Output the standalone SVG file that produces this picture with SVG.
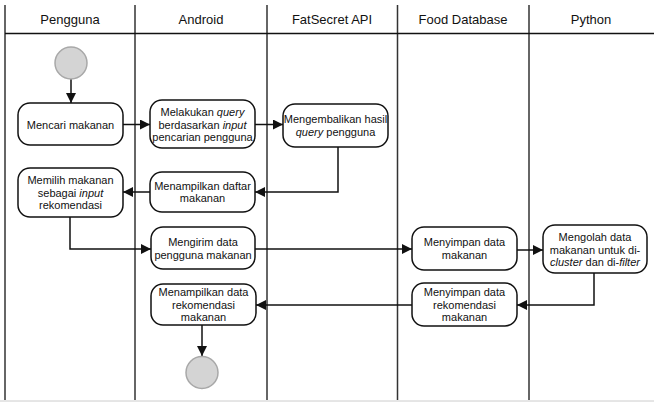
<svg xmlns="http://www.w3.org/2000/svg" width="654" height="403" viewBox="0 0 654 403">
<style>
.lane{stroke:#333;stroke-width:1.5;fill:none}
.hdr{font-family:"Liberation Sans",Arial,sans-serif;font-size:13px;fill:#111;text-anchor:middle}
.box{fill:#fff;stroke:#111;stroke-width:1.5}
.t{font-family:"Liberation Sans",Arial,sans-serif;font-size:11px;fill:#111;text-anchor:middle}
.c{stroke:#111;stroke-width:1.5;fill:none}
.node-c{fill:#d4d4d4;stroke:#a8a8a8;stroke-width:1.5}
</style>
<defs>
<marker id="ah" viewBox="0 0 10 10" refX="10" refY="5" markerWidth="7" markerHeight="7" markerUnits="userSpaceOnUse" orient="auto">
<path d="M0,0 L10,5 L0,10 z" fill="#111"/>
</marker>
<marker id="a" viewBox="0 0 10 10" refX="10" refY="5" markerWidth="10" markerHeight="10" markerUnits="userSpaceOnUse" orient="auto">
<path d="M0,0 L10,5 L0,10 z" fill="#111"/>
</marker>
</defs>
<rect width="654" height="403" fill="#fff"/>
<g id="lanes">
<line class="lane" x1="5" y1="5" x2="5" y2="400"/>
<line class="lane" x1="135" y1="5" x2="135" y2="400"/>
<line class="lane" x1="267" y1="5" x2="267" y2="400"/>
<line class="lane" x1="397.5" y1="5" x2="397.5" y2="400"/>
<line class="lane" x1="529" y1="5" x2="529" y2="400"/>
<line x1="5" y1="33.5" x2="654" y2="33.5" stroke="#111" stroke-width="1.5"/>
<line x1="0" y1="401" x2="654" y2="401" stroke="#ccc" stroke-width="1"/>
<text class="hdr" x="70" y="24">Pengguna</text>
<text class="hdr" x="201" y="24">Android</text>
<text class="hdr" x="332" y="24">FatSecret API</text>
<text class="hdr" x="463" y="24">Food Database</text>
<text class="hdr" x="591" y="24">Python</text>
</g>
<g id="connectors">
<line class="c" x1="71" y1="79" x2="71" y2="103" marker-end="url(#a)"/>
<line class="c" x1="123" y1="124.5" x2="150" y2="124.5" marker-end="url(#a)"/>
<line class="c" x1="255" y1="124.5" x2="283" y2="124.5" marker-end="url(#a)"/>
<polyline class="c" points="338,147 338,192 255,192" marker-end="url(#a)"/>
<line class="c" x1="150" y1="192" x2="123" y2="192" marker-end="url(#a)"/>
<polyline class="c" points="70,217 70,249 151,249" marker-end="url(#a)"/>
<line class="c" x1="255" y1="249" x2="412" y2="249" marker-end="url(#a)"/>
<line class="c" x1="517" y1="250" x2="543" y2="250" marker-end="url(#a)"/>
<polyline class="c" points="594,273 594,305 517,305" marker-end="url(#a)"/>
<line class="c" x1="412" y1="305" x2="256" y2="305" marker-end="url(#a)"/>
<line class="c" x1="202" y1="325" x2="202" y2="356" marker-end="url(#a)"/>
</g>
<g id="start"><circle class="node-c" cx="71" cy="63" r="16"/></g>
<g id="end"><circle class="node-c" cx="202" cy="372.5" r="16"/></g>
<g id="mencari">
<rect class="box" x="18" y="103" width="105" height="42" rx="12"/>
<text class="t" x="70.5" y="128.5">Mencari makanan</text>
</g>
<g id="melakukan">
<rect class="box" x="150" y="100" width="105" height="48" rx="12"/>
<text class="t" x="202.5" y="116">Melakukan <tspan font-style="italic">query</tspan></text>
<text class="t" x="202.5" y="128.5">berdasarkan <tspan font-style="italic">input</tspan></text>
<text class="t" x="202.5" y="141">pencarian pengguna</text>
</g>
<g id="mengembalikan">
<rect class="box" x="283" y="104" width="105" height="43" rx="12"/>
<text class="t" x="335.5" y="122.5">Mengembalikan hasil</text>
<text class="t" x="335.5" y="135.5"><tspan font-style="italic">query</tspan> pengguna</text>
</g>
<g id="menampilkan-daftar">
<rect class="box" x="150" y="172" width="105" height="40" rx="12"/>
<text class="t" x="202.5" y="189.5">Menampilkan daftar</text>
<text class="t" x="202.5" y="202">makanan</text>
</g>
<g id="memilih">
<rect class="box" x="18" y="168" width="105" height="49" rx="12"/>
<text class="t" x="70.5" y="184">Memilih makanan</text>
<text class="t" x="70.5" y="196.5">sebagai <tspan font-style="italic">input</tspan></text>
<text class="t" x="70.5" y="209">rekomendasi</text>
</g>
<g id="mengirim">
<rect class="box" x="151" y="227" width="104" height="42" rx="12"/>
<text class="t" x="203" y="246">Mengirim data</text>
<text class="t" x="203" y="258.5">pengguna makanan</text>
</g>
<g id="menyimpan-data">
<rect class="box" x="412" y="227" width="105" height="43" rx="12"/>
<text class="t" x="464.5" y="246">Menyimpan data</text>
<text class="t" x="464.5" y="258.5">makanan</text>
</g>
<g id="mengolah">
<rect class="box" x="543" y="225" width="104" height="48" rx="12"/>
<text class="t" x="595" y="241">Mengolah data</text>
<text class="t" x="595" y="253.5">makanan untuk di-</text>
<text class="t" x="595" y="266"><tspan font-style="italic">cluster</tspan> dan di-<tspan font-style="italic">filter</tspan></text>
</g>
<g id="menyimpan-rekomendasi">
<rect class="box" x="412" y="283" width="105" height="43" rx="12"/>
<text class="t" x="464.5" y="296">Menyimpan data</text>
<text class="t" x="464.5" y="308.5">rekomendasi</text>
<text class="t" x="464.5" y="321">makanan</text>
</g>
<g id="menampilkan-rekomendasi">
<rect class="box" x="151" y="284" width="105" height="41" rx="12"/>
<text class="t" x="203.5" y="296">Menampilkan data</text>
<text class="t" x="203.5" y="308.5">rekomendasi</text>
<text class="t" x="203.5" y="321">makanan</text>
</g>
</svg>
